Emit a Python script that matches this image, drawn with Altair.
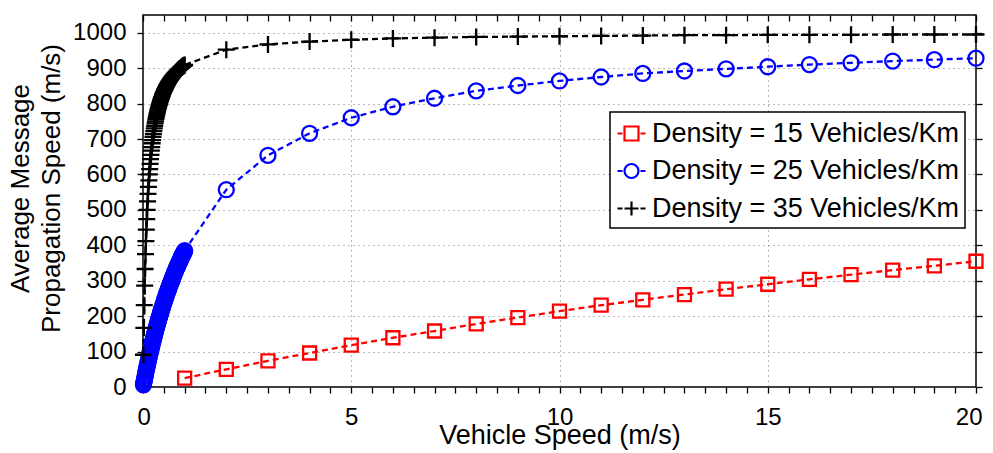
import altair as alt
import pandas as pd

# ---------------- data ----------------
S15 = "Density = 15 Vehicles/Km"
S25 = "Density = 25 Vehicles/Km"
S35 = "Density = 35 Vehicles/Km"
SERIES = [S15, S25, S35]

# dense sampling of vehicle speed between 0 and 1 m/s
DENSE_X = [round(0.01 * k, 2) for k in range(1, 101)]
INT_X = list(range(1, 21))

RED_Y = [25, 50, 74, 96, 118, 139, 158, 178, 196, 214,
         231, 246, 261, 276, 290, 304, 317, 330, 342, 355]

BLUE_DENSE_Y = [6, 12, 18, 24, 30, 36, 42, 48, 53, 59,
                64, 70, 75, 80, 86, 91, 96, 101, 106, 111,
                116, 121, 126, 130, 135, 140, 144, 149, 153, 158,
                162, 167, 171, 175, 179, 184, 188, 192, 196, 200,
                204, 208, 212, 216, 220, 223, 227, 231, 234, 238,
                242, 245, 249, 252, 256, 259, 263, 266, 269, 273,
                276, 279, 283, 286, 289, 292, 295, 298, 301, 304,
                307, 310, 313, 316, 319, 322, 325, 328, 331, 333,
                336, 339, 342, 344, 347, 350, 352, 355, 357, 360,
                363, 365, 368, 370, 373, 375, 377, 380, 382, 385]
BLUE_INT_Y = [557, 654, 716, 760, 791, 815, 836, 851, 864,
              875, 885, 892, 898, 904, 910, 915, 920, 924, 928]

BLACK_DENSE_Y = [91, 167, 231, 286, 333, 375, 412, 444, 474, 500,
                 524, 545, 565, 583, 600, 615, 630, 643, 655, 667,
                 677, 688, 697, 706, 714, 722, 730, 737, 744, 750,
                 756, 762, 767, 773, 778, 783, 787, 792, 796, 800,
                 804, 808, 811, 815, 818, 821, 825, 828, 831, 833,
                 836, 839, 841, 844, 846, 848, 851, 853, 855, 857,
                 859, 861, 863, 865, 867, 868, 870, 872, 873, 875,
                 877, 878, 880, 881, 882, 884, 885, 886, 888, 889,
                 890, 891, 892, 894, 895, 896, 897, 898, 899, 900,
                 901, 902, 903, 904, 905, 906, 907, 907, 908, 909]
BLACK_INT_Y = [952, 967, 975, 980, 984, 986, 988, 989, 990,
               991, 992, 993, 993, 994, 994, 994, 995, 995, 995]

X_TICKS = [k * 0.5 for k in range(41)]
Y_TICKS = [k * 100 for k in range(11)]

rows = []
for x, y in zip(INT_X, RED_Y):
    rows.append({"speed": x, "prop": y, "series": S15})
for x, y in zip(DENSE_X + INT_X[1:], BLUE_DENSE_Y + BLUE_INT_Y):
    rows.append({"speed": x, "prop": y, "series": S25})
for x, y in zip(DENSE_X + INT_X[1:], BLACK_DENSE_Y + BLACK_INT_Y):
    rows.append({"speed": x, "prop": y, "series": S35})
df = pd.DataFrame(rows)

# ---------------- styling ----------------
FONT = "Liberation Sans"
W, H = 833, 372
xscale = alt.Scale(domain=[0, 20], nice=False, zero=False)
yscale = alt.Scale(domain=[0, 1050], nice=False)
cscale = alt.Scale(domain=SERIES, range=["#ff0000", "#0000ff", "#000000"])

PLUS = "M-1,0H1M0,-1V1"
LEG_SQ = "M-1,0H-0.64M0.64,0H1M-0.5,-0.5H0.5V0.5H-0.5Z"
LEG_CI = "M-1,0H-0.64M0.64,0H1M0.5,0A0.5,0.5,0,1,1,-0.5,0A0.5,0.5,0,1,1,0.5,0"
LEG_PL = "M-1,0H-0.64M-0.5,0H0.5M0,-0.5V0.5M0.64,0H1"

LEG_KW = dict(title=None, orient="none", legendX=467, legendY=97,
              fillColor="white", strokeColor="black", padding=6, rowPadding=8.5,
              labelFontSize=27, labelFont=FONT, labelOffset=5, labelLimit=0,
              symbolSize=784, symbolStrokeWidth=2.2)

lines = alt.Chart(df).mark_line(strokeWidth=2.3, strokeDash=[6, 4]).encode(
    x=alt.X("speed:Q", scale=xscale, axis=alt.Axis(
        orient="bottom", values=X_TICKS,
        labelExpr="datum.value % 5 === 0 ? format(datum.value, 'd') : ''",
        labelOverlap=False, labelFlush=True, labelFlushOffset=6,
        labelFontSize=24, labelPadding=12,
        tickSize=6, domain=False, grid=True, gridDash=[1, 4], gridColor="#777",
        gridOpacity={"condition": {"test": "datum.value % 5 === 0 && datum.value > 0 && datum.value < 20", "value": 1}, "value": 0},
        title="Vehicle Speed (m/s)", titleFontSize=27, titleY=56.6,
        titleBaseline="alphabetic", titleFontWeight="normal")),
    y=alt.Y("prop:Q", scale=yscale, axis=alt.Axis(
        orient="left", values=Y_TICKS, format="d", labelFontSize=24, labelPadding=11,
        tickSize=6, domain=False, grid=True, gridDash=[1, 4], gridColor="#777",
        gridOpacity={"condition": {"test": "datum.value > 0", "value": 1}, "value": 0},
        title=["Average Message", "Propagation Speed (m/s)"], titleFontSize=26,
        titleFontWeight="normal", titleAngle=-90, titleAlign="center",
        titleBaseline="alphabetic", titleX=-114.5, titleY=173, titleLineHeight=31)),
    color=alt.Color("series:N", scale=cscale, legend=None),
    detail="series:N",
)

points = alt.Chart(df).mark_point(filled=False, strokeWidth=2.3, opacity=1).encode(
    x=alt.X("speed:Q", scale=xscale, axis=alt.Axis(
        orient="bottom", offset=-H, values=X_TICKS, labels=False, title=None,
        domain=False, grid=False, tickSize=6)),
    y=alt.Y("prop:Q", scale=yscale, axis=alt.Axis(
        orient="right", values=Y_TICKS, labels=False, title=None,
        domain=False, grid=False, tickSize=6)),
    color=alt.Color("series:N", scale=cscale, legend=None),
    shape=alt.Shape("series:N", scale=alt.Scale(domain=SERIES, range=["square", "circle", PLUS]), legend=None),
    size={"condition": [
        {"test": "datum.series === '%s'" % S15, "value": 169},
        {"test": "datum.series === '%s'" % S25, "value": 225}],
        "value": 289},
)

legend_layer = alt.Chart(df).transform_filter("false").mark_point(
    filled=False, strokeWidth=2.2, opacity=1).encode(
    x=alt.X("speed:Q", scale=xscale, axis=None),
    y=alt.Y("prop:Q", scale=yscale, axis=None),
    color=alt.Color("series:N", scale=cscale, legend=alt.Legend(**LEG_KW)),
    shape=alt.Shape("series:N", scale=alt.Scale(domain=SERIES, range=[LEG_SQ, LEG_CI, LEG_PL]),
                    legend=alt.Legend(**LEG_KW)),
)

chart = alt.layer(lines, points, legend_layer).resolve_axis(
    x="independent", y="independent").resolve_scale(
    shape="independent", color="independent").properties(
    width=W, height=H,
    padding={"left": 135, "top": 7, "right": 9, "bottom": 63},
    autosize=alt.AutoSizeParams(type="none"),
).configure(font=FONT, background="white").configure_view(
    stroke="black", strokeWidth=1.5
).configure_axis(
    labelColor="black", titleColor="black", tickColor="black", tickWidth=1.3,
    labelFont=FONT, titleFont=FONT,
).configure_legend(strokeWidth=1.5)

chart.save("out.html", embed_options={"renderer": "svg", "actions": False})
